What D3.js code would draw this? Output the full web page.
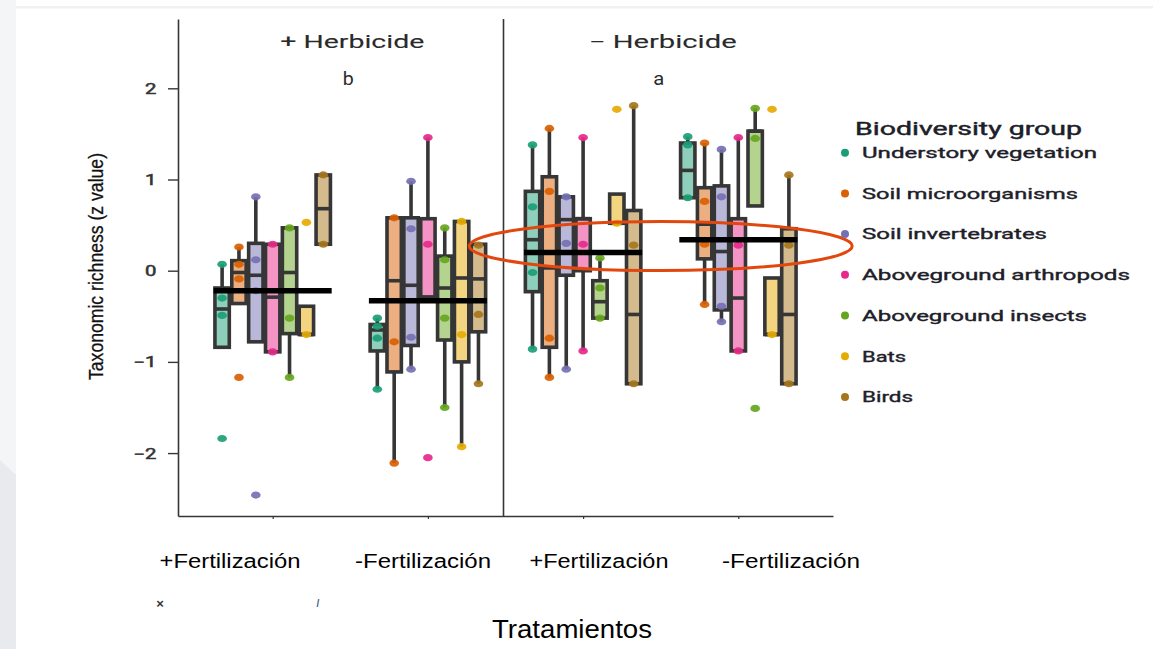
<!DOCTYPE html>
<html>
<head>
<meta charset="utf-8">
<script src="https://cdn.jsdelivr.net/npm/d3@7"></script>
<style>
  body { margin: 0; background: #fff; }
  svg { display: block; }
</style>
</head>
<body>
<svg id="chart" width="1153" height="649"></svg>
<script>
// ---- data ----
const treatments = ["+H +F", "+H -F", "-H +F", "-H -F"];
const treatmentLabels = ["+Fertilización", "-Fertilización", "+Fertilización", "-Fertilización"];
const herbicidePanels = ["+ Herbicide", "\u2212 Herbicide"];
const panelLetters = ["b", "a"];
const groups = [
  "Understory vegetation", "Soil microorganisms", "Soil invertebrates",
  "Aboveground arthropods", "Aboveground insects", "Bats", "Birds"
];
const groupColors = ["#1b9e77", "#d95f02", "#7570b3", "#e7298a", "#66a61e", "#e6ab02", "#a6761d"];
const yTicks = [-2, -1, 0, 1, 2];

// [whisker low, Q1, median, Q3, whisker high] for each biodiversity group
const boxesHerbFert = [
  [-0.84, -0.84, -0.42, -0.19, 0.07],
  [-0.36, -0.36, -0.02, 0.11, 0.26],
  [-0.78, -0.78, -0.05, 0.30, 0.81],
  [-0.89, -0.89, -0.29, 0.29, 0.29],
  [-1.17, -0.69, -0.02, 0.47, 0.47],
  [-0.70, -0.70, -0.70, -0.39, -0.39],
  [0.29, 0.29, 0.68, 1.05, 1.05]
];
const boxesHerbNoFert = [
  [-1.30, -0.88, -0.65, -0.59, -0.52],
  [-2.11, -1.11, -0.11, 0.58, 0.58],
  [-1.08, -0.82, -0.16, 0.58, 0.98],
  [-0.29, -0.29, -0.29, 0.57, 1.46],
  [-1.50, -0.76, -0.19, 0.16, 0.47],
  [-1.93, -1.00, -0.08, 0.54, 0.54],
  [-1.24, -0.67, -0.09, 0.29, 0.29]
];
const boxesNoHerbFert = [
  [-0.86, -0.23, 0.34, 0.87, 1.38],
  [-1.17, -0.84, 0.03, 1.03, 1.56],
  [-1.08, -0.05, 0.56, 0.81, 0.81],
  [-0.88, 0.00, 0.57, 0.57, 1.46],
  [-0.52, -0.52, -0.34, -0.11, 0.14],
  [0.52, 0.52, 0.52, 0.84, 0.84],
  [-1.24, -1.24, -0.48, 0.66, 1.81]
];
const boxesNoHerbNoFert = [
  [0.80, 0.80, 1.10, 1.40, 1.47],
  [-0.37, 0.13, 0.51, 0.91, 1.40],
  [-0.56, -0.43, 0.21, 0.93, 1.33],
  [-0.88, -0.88, -0.30, 0.57, 1.46],
  [0.71, 0.71, 1.53, 1.53, 1.78],
  [-0.70, -0.70, -0.70, -0.08, -0.08],
  [-1.24, -1.24, -0.48, 0.46, 1.05]
];

// site-level z values for each biodiversity group
const pointsHerbFert = [
  [0.07, -0.30, -0.49, -1.84],
  [0.26, 0.07, -0.09, -1.17],
  [0.81, 0.12, -0.22, -2.46],
  [0.29, -0.89],
  [0.47, -0.52, -1.17],
  [0.53, -0.70],
  [1.05, 0.29]
];
const pointsHerbNoFert = [
  [-0.52, -0.61, -0.74, -1.30],
  [0.58, -0.78, -2.11],
  [0.98, 0.46, -0.73, -1.08],
  [1.46, 0.29, -2.05],
  [0.47, 0.12, -0.52, -1.50],
  [0.54, -0.70, -1.93],
  [0.28, -0.48, -1.24]
];
const pointsNoHerbFert = [
  [1.38, 0.70, -0.02, -0.86],
  [1.56, 0.87, -0.74, -1.17],
  [0.81, 0.30, -1.08],
  [1.46, 0.29, -0.88],
  [0.14, -0.19, -0.52],
  [1.77, 0.52],
  [1.81, 0.28, -1.24]
];
const pointsNoHerbNoFert = [
  [1.47, 1.38, 0.80],
  [1.40, 0.76, 0.29, -0.37],
  [1.33, 0.81, -0.39, -0.56],
  [1.46, 0.28, -0.88],
  [1.78, 1.45, -1.51],
  [1.77, -0.70],
  [1.05, 0.28, -1.24]
];

// mean z value across all groups, per treatment
const treatmentMeans = [-0.22, -0.33, 0.20, 0.34];

const boxSets = [boxesHerbFert, boxesHerbNoFert, boxesNoHerbFert, boxesNoHerbNoFert];
const pointSets = [pointsHerbFert, pointsHerbNoFert, pointsNoHerbFert, pointsNoHerbNoFert];

// ---- layout ----
const W = 1153, H = 649;
const plot = { left: 178, right: 833, top: 19, bottom: 516 };
const ink = "#363636";
const svg = d3.select("#chart");

// page backdrop
svg.append("rect").attr("x", 0).attr("y", 0).attr("width", 16).attr("height", H).attr("fill", "#f4f5f7");
svg.append("path").attr("d", "M0,460 L16,475 L16,649 L0,649Z").attr("fill", "#e9eaee");
svg.append("rect").attr("x", 16).attr("y", 6).attr("width", W - 16).attr("height", 2.5).attr("fill", "#f0f1f3");

const y = d3.scaleLinear().domain([-2.69, 2.76]).range([plot.bottom, plot.top]);
const x = d3.scalePoint().domain(treatments).range([plot.left, plot.right]).padding(0.61);
const dodge = d3.scaleBand().domain(groups).range([-59, 59]);
const colorOf = d3.scaleOrdinal().domain(groups).range(groupColors);
const lightOf = g => d3.interpolateRgb(colorOf(g), "#ffffff")(0.5);

// text helper: fixed font size, stretched to a target width
function label(parent, str, px, py, opts) {
  const t = parent.append("text")
    .attr("x", px).attr("y", py)
    .attr("font-family", opts.family || "'Liberation Sans', Arial, sans-serif")
    .attr("font-size", opts.size)
    .attr("font-weight", opts.weight || 400)
    .attr("fill", opts.color || "#000")
    .attr("text-anchor", opts.anchor || "start")
    .text(str);
  if (opts.halo) t.attr("stroke", opts.color).attr("stroke-width", opts.halo);
  if (opts.width) t.attr("textLength", opts.width).attr("lengthAdjust", "spacingAndGlyphs");
  return t;
}

// axes
const yAxis = svg.append("g")
  .attr("transform", `translate(${plot.left},0)`)
  .call(d3.axisLeft(y).tickValues(yTicks).tickSize(10).tickSizeOuter(0).tickFormat(d3.format("d")));
yAxis.select(".domain").attr("stroke", ink).attr("stroke-width", 1.6);
yAxis.selectAll(".tick line").attr("stroke", ink).attr("stroke-width", 1.4);
yAxis.selectAll(".tick text").remove();
yAxis.selectAll(".tick").each(function (d) {
  const s = d3.format("d")(d);
  d3.select(this).append("text")
    .attr("transform", "translate(-21.5,0) scale(1.45,1)")
    .attr("dy", "0.36em")
    .attr("text-anchor", "end")
    .attr("font-family", "Roboto, 'Liberation Sans', sans-serif")
    .attr("font-weight", 400)
    .attr("stroke", "#333").attr("stroke-width", 0.5)
    .attr("font-size", 14)
    .attr("fill", "#333")
    .text(s);
});

const xAxis = svg.append("g")
  .attr("transform", `translate(0,${plot.bottom})`)
  .call(d3.axisBottom(x).tickSize(3).tickSizeOuter(0).tickFormat(""));
xAxis.select(".domain").attr("stroke", ink).attr("stroke-width", 1.6);
xAxis.selectAll(".tick line").attr("stroke", ink).attr("stroke-width", 1.2);

// herbicide divider
const divX = (x(treatments[1]) + x(treatments[2])) / 2 - 2;
svg.append("line").attr("x1", divX).attr("x2", divX).attr("y1", plot.top).attr("y2", plot.bottom)
  .attr("stroke", ink).attr("stroke-width", 1.6);

// panel headings
herbicidePanels.forEach((p, i) => {
  const cx = (x(treatments[2 * i]) + x(treatments[2 * i + 1])) / 2;
  label(svg, p, cx + 2, 48, { size: 18, family: "Roboto, sans-serif", color: "#2a2a2a", anchor: "middle", width: i === 0 ? 144 : 148, halo: 0.1 });
  label(svg, panelLetters[i], cx - 2, 85, { size: 18, family: "Roboto, sans-serif", color: "#2a2a2a", anchor: "middle", width: 11 });
});

// boxes
const plotG = svg.append("g");
const bw = dodge.bandwidth();
const boxW = bw - 2.5;
treatments.forEach((t, ti) => {
  groups.forEach((g, gi) => {
    const [lo, q1, med, q3, hi] = boxSets[ti][gi];
    const cx = x(t) + dodge(g) + bw / 2;
    const bg = plotG.append("g");
    bg.append("line").attr("x1", cx).attr("x2", cx).attr("y1", y(lo)).attr("y2", y(hi))
      .attr("stroke", ink).attr("stroke-width", 3.6);
    bg.append("rect").attr("x", cx - boxW / 2).attr("width", boxW)
      .attr("y", y(q3)).attr("height", y(q1) - y(q3))
      .attr("fill", lightOf(g)).attr("stroke", ink).attr("stroke-width", 3.6);
    bg.append("line").attr("x1", cx - boxW / 2).attr("x2", cx + boxW / 2)
      .attr("y1", y(med)).attr("y2", y(med))
      .attr("stroke", ink).attr("stroke-width", 3.6);
    bg.selectAll("ellipse").data(pointSets[ti][gi]).join("ellipse")
      .attr("cx", cx).attr("cy", d => y(d))
      .attr("rx", 4.8).attr("ry", 3.6)
      .attr("fill", colorOf(g)).attr("fill-opacity", 0.92);
  });
});

// treatment means
svg.selectAll(".mean").data(treatmentMeans).join("line").attr("class", "mean")
  .attr("x1", (d, i) => x(treatments[i]) - 59)
  .attr("x2", (d, i) => x(treatments[i]) + 59)
  .attr("y1", d => y(d)).attr("y2", d => y(d))
  .attr("stroke", "#000").attr("stroke-width", 5.5);

// highlight around the no-herbicide means
const hx = (x(treatments[2]) + x(treatments[3])) / 2;
const hy = y((treatmentMeans[2] + treatmentMeans[3]) / 2);
svg.append("ellipse").attr("cx", hx).attr("cy", hy).attr("rx", 191.5).attr("ry", 24.5)
  .attr("fill", "none").attr("stroke", "#e2470f").attr("stroke-width", 3);

// y title
svg.append("g").attr("transform", "translate(103,266.5) scale(1.2,1) rotate(-90)")
  .append("text").attr("text-anchor", "middle")
  .attr("font-family", "'Liberation Sans', Arial, sans-serif").attr("font-size", 17.5)
  .attr("fill", "#111").attr("stroke", "#111").attr("stroke-width", 0.25)
  .attr("textLength", 227).attr("lengthAdjust", "spacingAndGlyphs")
  .text("Taxonomic richness (z value)");

// treatment labels
const labelCenters = [230, 423, 599, 791];
const labelWidths = [141, 136, 139, 138];
treatmentLabels.forEach((s, i) => {
  label(svg, s, labelCenters[i], 568, { size: 20, anchor: "middle", width: labelWidths[i] });
});
label(svg, "Tratamientos", 572, 638, { size: 26, anchor: "middle", width: 160 });

// stray marks under the labels
label(svg, "\u00d7", 160, 608, { size: 13, anchor: "middle", color: "#333", weight: 700 });
label(svg, "/", 318, 607, { size: 10, anchor: "middle", color: "#4a5a80", weight: 700 });

// legend
const legend = svg.append("g");
label(legend, "Biodiversity group", 855, 135, { size: 18, family: "Roboto, sans-serif", color: "#1e1e2a", width: 227, halo: 0.45 });
const legendWidths = [235, 216, 185, 268, 225, 44, 51];
groups.forEach((g, i) => {
  const yy = 158 + i * 40.7;
  legend.append("circle").attr("cx", 845).attr("cy", yy - 5.3).attr("r", 4).attr("fill", colorOf(g));
  label(legend, g, 862, yy, { size: 15.5, family: "Roboto, sans-serif", color: "#1e1e2a", width: legendWidths[i], halo: 0.4 });
});
</script>
</body>
</html>
